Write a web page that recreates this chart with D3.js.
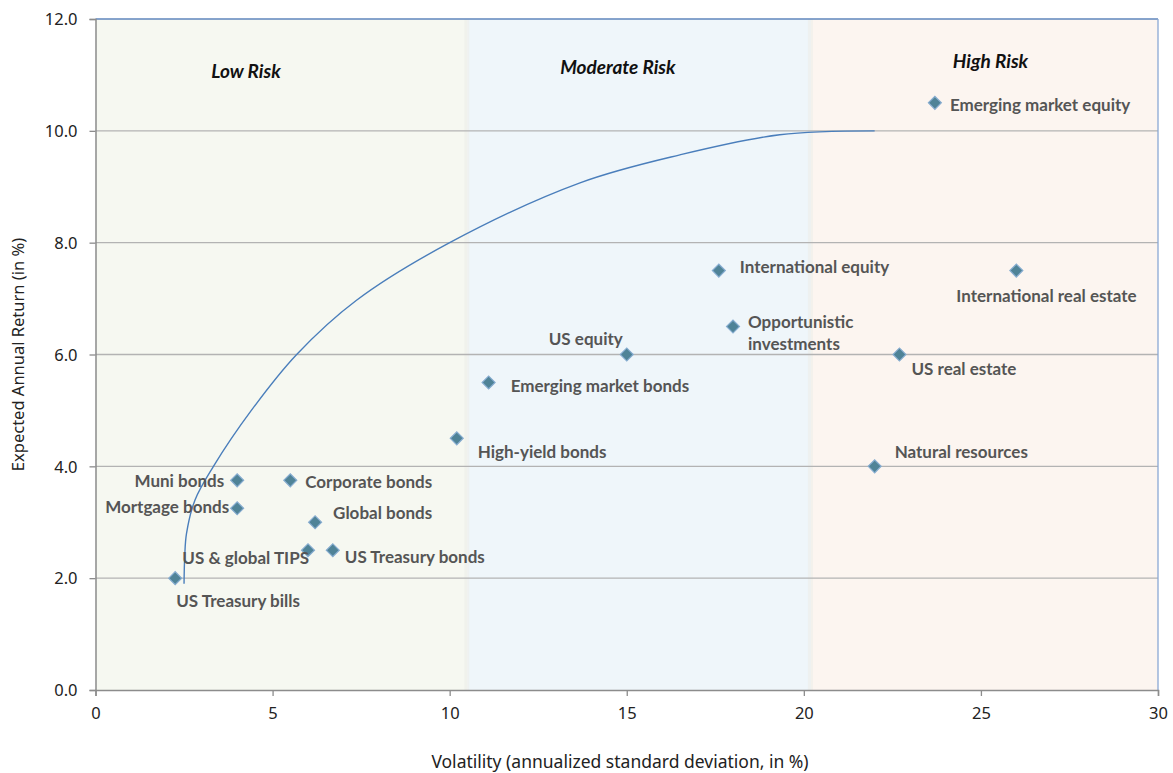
<!DOCTYPE html>
<html>
<head>
<meta charset="utf-8">
<script src="https://cdn.jsdelivr.net/npm/d3@7/dist/d3.min.js"></script>
<style>
  html, body { margin: 0; padding: 0; background: #ffffff; }
  svg { display: block; }
</style>
</head>
<body>
<div id="chart"></div>
<script>
// Asset classes: volatility (x, %) and expected annual return (y, %)
const assetNames = [
  "Emerging market equity", "International equity", "International real estate",
  "Opportunistic investments", "US equity", "US real estate", "Emerging market bonds",
  "High-yield bonds", "Natural resources", "Muni bonds", "Corporate bonds",
  "Mortgage bonds", "Global bonds", "US & global TIPS", "US Treasury bonds",
  "US Treasury bills"
];
const volatility = [23.7, 17.6, 26.0, 18.0, 15.0, 22.7, 11.1, 10.2, 22.0, 4.0, 5.5, 4.0, 6.2, 6.0, 6.7, 2.25];
const expectedReturn = [10.5, 7.5, 7.5, 6.5, 6.0, 6.0, 5.5, 4.5, 4.0, 3.75, 3.75, 3.25, 3.0, 2.5, 2.5, 2.0];

// Frontier curve (volatility, return)
const frontierVol = [2.5, 2.52, 2.57, 2.81, 3.33, 4.4, 5.68, 7.37, 10.0, 13.68, 16.5, 19.32, 22.0];
const frontierRet = [1.9, 2.4, 2.8, 3.4, 4.0, 5.0, 6.0, 6.97, 8.0, 9.07, 9.57, 9.93, 10.0];

// Risk bands along the volatility axis
const zoneNames = ["Low Risk", "Moderate Risk", "High Risk"];
const zoneStart = [0, 10.5, 20.2];
const zoneEnd = [10.5, 20.2, 30];
const zoneTitleAt = [4.25, 14.75, 25.27];

const xTicks = [0, 5, 10, 15, 20, 25, 30];
const yTicks = [0, 2, 4, 6, 8, 10, 12];

// Label placement for each point: [anchor, dx, dy] in pixels (layout only)
const labelPlacement = {
  "Emerging market equity": ["start", 15, 2],
  "International equity": ["start", 21, -4],
  "International real estate": ["start", -60, 25],
  "Opportunistic investments": ["start", 15, -6],
  "US equity": ["end", -4, -16],
  "US real estate": ["start", 12, 14],
  "Emerging market bonds": ["start", 22, 3],
  "High-yield bonds": ["start", 21, 13],
  "Natural resources": ["start", 20, -15],
  "Muni bonds": ["end", -13, 0],
  "Corporate bonds": ["start", 15, 1],
  "Mortgage bonds": ["end", -8, -2],
  "Global bonds": ["start", 18, -10],
  "US & global TIPS": ["end", 1, 7],
  "US Treasury bonds": ["start", 12, 6],
  "US Treasury bills": ["start", 1, 22]
};
const zoneFill = ["#f6f8f1", "#eff6fa", "#fcf5f0"];
const zoneLabelY = [70, 66, 60];

const W = 1173, H = 773;
const margin = { left: 95.5, right: 15, top: 19, bottom: 83 };
const x = d3.scaleLinear().domain([0, 30]).range([margin.left, W - margin.right]);
const y = d3.scaleLinear().domain([0, 12]).range([H - margin.bottom, margin.top]);

const svg = d3.select("#chart").append("svg")
  .attr("width", W).attr("height", H);

// Risk zone backgrounds
const zones = zoneNames.map((n, i) => ({
  name: n, a: zoneStart[i], b: zoneEnd[i], mid: zoneTitleAt[i], fill: zoneFill[i], ly: zoneLabelY[i]
}));
svg.append("g").selectAll("rect").data(zones).join("rect")
  .attr("x", d => x(d.a)).attr("width", d => x(d.b) - x(d.a))
  .attr("y", y(12)).attr("height", y(0) - y(12))
  .attr("fill", d => d.fill);
// soft seams between zones
svg.append("g").selectAll("rect").data(zones.slice(1)).join("rect")
  .attr("x", d => x(d.a) - 3).attr("width", 5)
  .attr("y", y(12)).attr("height", y(0) - y(12))
  .attr("fill", "#ecefe9").attr("opacity", 0.6);

// Horizontal gridlines
svg.append("g").selectAll("line").data(yTicks.filter(t => t > 0 && t < 12)).join("line")
  .attr("x1", x(0)).attr("x2", x(30))
  .attr("y1", d => y(d)).attr("y2", d => y(d))
  .attr("stroke", "#b3b3b3").attr("stroke-width", 1.3);

// Plot frame: top and right edges
svg.append("line").attr("x1", x(0)).attr("x2", x(30)).attr("y1", y(12)).attr("y2", y(12))
  .attr("stroke", "#5f86bd").attr("stroke-width", 1.5);
svg.append("line").attr("x1", x(30)).attr("x2", x(30)).attr("y1", y(12)).attr("y2", y(0))
  .attr("stroke", "#8aa8d4").attr("stroke-width", 1.3);

// Axes
const axisFont = "'Noto Sans', 'Open Sans', sans-serif";
const gx = svg.append("g").attr("transform", `translate(0,${y(0)})`)
  .call(d3.axisBottom(x).tickValues(xTicks).tickFormat(d3.format("d")).tickSizeOuter(0).tickSize(6).tickPadding(9));
const gy = svg.append("g").attr("transform", `translate(${x(0)},0)`)
  .call(d3.axisLeft(y).tickValues(yTicks).tickFormat(d3.format(".1f")).tickSizeOuter(0).tickSize(6).tickPadding(12));
[gx, gy].forEach(g => {
  g.attr("font-size", null).attr("font-family", null);
  g.select(".domain").attr("stroke", "#8c8c8c").attr("stroke-width", 1.5);
  g.selectAll(".tick line").attr("stroke", "#8c8c8c").attr("stroke-width", 1.3);
  g.selectAll(".tick text").attr("fill", "#222")
    .style("font-family", axisFont).style("font-size", "16.5px");
});
gx.selectAll(".tick text").attr("dy", "0.85em");
gy.selectAll(".tick text").attr("dy", "0.35em");

// Axis titles
svg.append("text").attr("x", 620).attr("y", 768)
  .attr("text-anchor", "middle").attr("fill", "#222")
  .style("font-family", axisFont).style("font-size", "17.5px")
  .text("Volatility (annualized standard deviation, in %)");
svg.append("text").attr("transform", `translate(24,${y(6)}) rotate(-90)`)
  .attr("text-anchor", "middle").attr("fill", "#222")
  .style("font-family", axisFont).style("font-size", "16.5px")
  .text("Expected Annual Return (in %)");

// Zone titles
svg.append("g").selectAll("text").data(zones).join("text")
  .attr("x", d => x(d.mid)).attr("y", d => d.ly)
  .attr("text-anchor", "middle").attr("dominant-baseline", "central")
  .attr("fill", "#111")
  .style("font-family", "Lato, 'Open Sans', sans-serif")
  .style("font-size", "19px").style("font-weight", "bold").style("font-style", "italic")
  .text(d => d.name);

// Frontier curve
const frontier = frontierVol.map((v, i) => [v, frontierRet[i]]);
svg.append("path").datum(frontier)
  .attr("d", d3.line().x(d => x(d[0])).y(d => y(d[1])).curve(d3.curveCatmullRom.alpha(0.5)))
  .attr("fill", "none").attr("stroke", "#4a7ebb").attr("stroke-width", 1.4);

// Asset points
const assets = assetNames.map((n, i) => ({ name: n, v: volatility[i], r: expectedReturn[i] }));
const diamond = d3.symbol().type(d3.symbolSquare).size(84);
svg.append("g").selectAll("path").data(assets).join("path")
  .attr("d", diamond)
  .attr("transform", d => `translate(${x(d.v)},${y(d.r)}) rotate(45)`)
  .attr("fill", "#4f8397").attr("stroke", "#86acd0").attr("stroke-width", 1.2);

// Point labels
const labelFont = "Lato, 'Open Sans', sans-serif";
const lbl = svg.append("g").selectAll("text").data(assets).join("text")
  .attr("x", d => x(d.v) + labelPlacement[d.name][1])
  .attr("y", d => y(d.r) + labelPlacement[d.name][2])
  .attr("text-anchor", d => labelPlacement[d.name][0])
  .attr("dominant-baseline", "central")
  .attr("fill", "#555555")
  .style("font-family", labelFont).style("font-size", "17px").style("font-weight", "bold");
lbl.each(function(d) {
  const t = d3.select(this);
  if (d.name === "Opportunistic investments") {
    t.append("tspan").attr("x", t.attr("x")).text("Opportunistic");
    t.append("tspan").attr("x", t.attr("x")).attr("dy", 22).text("investments");
  } else {
    t.text(d.name);
  }
});
</script>
</body>
</html>
